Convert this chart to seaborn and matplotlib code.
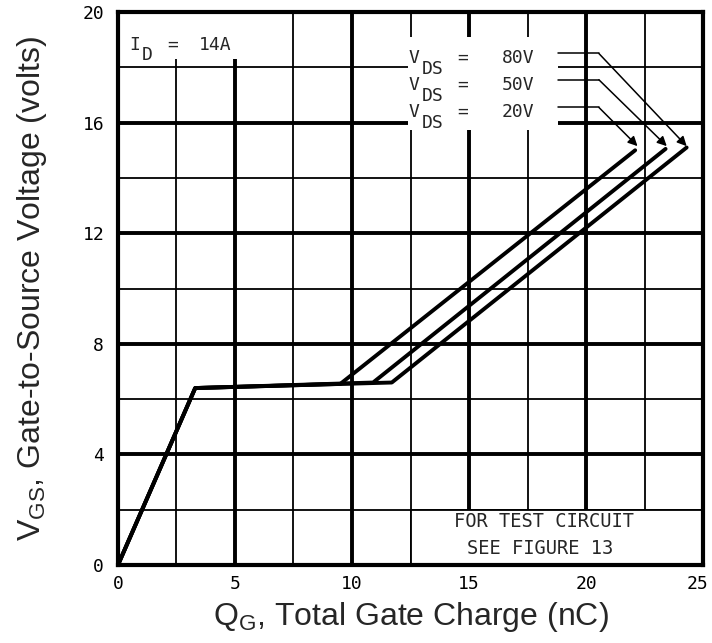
import numpy as np
import pandas as pd
import matplotlib
matplotlib.use("Agg")
import matplotlib.pyplot as plt
import matplotlib.transforms as mtransforms
from matplotlib.patches import Rectangle
import seaborn as sns

# gate charge curves, one per V_DS
vds_labels = ["20V", "50V", "80V"]
qg_20 = [0.0, 3.3, 9.5, 22.1]
vgs_20 = [0.0, 6.4, 6.55, 15.0]
qg_50 = [0.0, 3.3, 10.9, 23.4]
vgs_50 = [0.0, 6.4, 6.6, 15.05]
qg_80 = [0.0, 3.3, 11.7, 24.3]
vgs_80 = [0.0, 6.4, 6.6, 15.1]

x_ticks = [0, 5, 10, 15, 20, 25]
y_ticks = [0, 4, 8, 12, 16, 20]

df = pd.concat([
    pd.DataFrame({"qg": qg_20, "vgs": vgs_20, "vds": "20V"}),
    pd.DataFrame({"qg": qg_50, "vgs": vgs_50, "vds": "50V"}),
    pd.DataFrame({"qg": qg_80, "vgs": vgs_80, "vds": "80V"}),
], ignore_index=True)

sns.set_style("white")
plt.rcParams["font.family"] = ["DejaVu Sans Mono"]

fig = plt.figure(figsize=(7.12, 6.43), dpi=100)
ax = fig.add_axes([0.1657, 0.1213, 0.8217, 0.86])

sns.lineplot(data=df, x="qg", y="vgs", units="vds", estimator=None, sort=False,
             color="black", linewidth=2.8, ax=ax, zorder=3, legend=False)

ax.set_xlim(0, 25)
ax.set_ylim(0, 20)
ax.set_xticks(x_ticks)
ax.set_yticks(y_ticks)
ax.set_xticks(np.arange(0, 25.1, 2.5), minor=True)
ax.set_yticks(np.arange(0, 20.1, 2), minor=True)
ax.set_axisbelow(True)
ax.grid(which="major", color="black", linewidth=2.8)
ax.grid(which="minor", color="black", linewidth=1.3)
ax.tick_params(which="both", length=0, labelsize=13, colors="black")
ax.tick_params(axis="y", pad=10)
ax.tick_params(axis="x", pad=7)
for s in ax.spines.values():
    s.set_linewidth(3)
    s.set_color("black")

# last x label sits at the figure edge, nudge it in a little
last = ax.get_xticklabels()[-1]
last.set_transform(last.get_transform() +
                   mtransforms.ScaledTranslation(-6 / 100, 0, fig.dpi_scale_trans))

# white areas for the text blocks
ax.add_patch(Rectangle((0, 18.3), 6.0, 1.7, facecolor="white", edgecolor="none", zorder=1))
ax.add_patch(Rectangle((12.4, 15.75), 6.4, 3.35, facecolor="white", edgecolor="none", zorder=1))
ax.add_patch(Rectangle((12.5, 0), 12.5, 2.0, facecolor="white", edgecolor="black",
                       linewidth=1.3, zorder=1))

fs = 13
ax.text(0.5, 18.8, "I", fontsize=fs, va="center", ha="left", zorder=4)
ax.text(1.0, 18.45, "D", fontsize=fs, va="center", ha="left", zorder=4)
ax.text(2.35, 18.8, "=", fontsize=fs, va="center", ha="center", zorder=4)
ax.text(3.45, 18.8, "14A", fontsize=fs, va="center", ha="left", zorder=4)

label_y = [16.4, 17.37, 18.35]
lead_y = [16.55, 17.55, 18.5]
tip_x = [22.2, 23.45, 24.3]
for lab, ly, yy, tx in zip(vds_labels, label_y, lead_y, tip_x):
    ax.text(12.42, ly, "V", fontsize=fs, va="center", ha="left", zorder=4)
    ax.text(13.0, ly - 0.4, "DS", fontsize=fs, va="center", ha="left", zorder=4)
    ax.text(14.75, ly, "=", fontsize=fs, va="center", ha="center", zorder=4)
    ax.text(16.4, ly, lab, fontsize=fs, va="center", ha="left", zorder=4)
    ax.plot([18.8, 20.55], [yy, yy], color="black", linewidth=1.1, zorder=4)
    ax.annotate("", xy=(tx, 15.15), xytext=(20.55, yy),
                arrowprops=dict(arrowstyle="-|>", color="black", lw=1.1,
                                mutation_scale=14, shrinkA=0, shrinkB=0), zorder=4)

ax.text(18.2, 1.56, "FOR TEST CIRCUIT", fontsize=13.5, ha="center", va="center", zorder=4)
ax.text(18.05, 0.6, "SEE FIGURE 13", fontsize=13.5, ha="center", va="center", zorder=4)

ax.set_xlabel(r"Q$_{\mathregular{G}}$, Total Gate Charge (nC)", family="Liberation Sans",
              fontsize=23, labelpad=5)
ax.set_ylabel(r"V$_{\mathregular{GS}}$, Gate-to-Source Voltage (volts)", family="Liberation Sans",
              fontsize=23, labelpad=24)

fig.savefig("out.png", dpi=100)
